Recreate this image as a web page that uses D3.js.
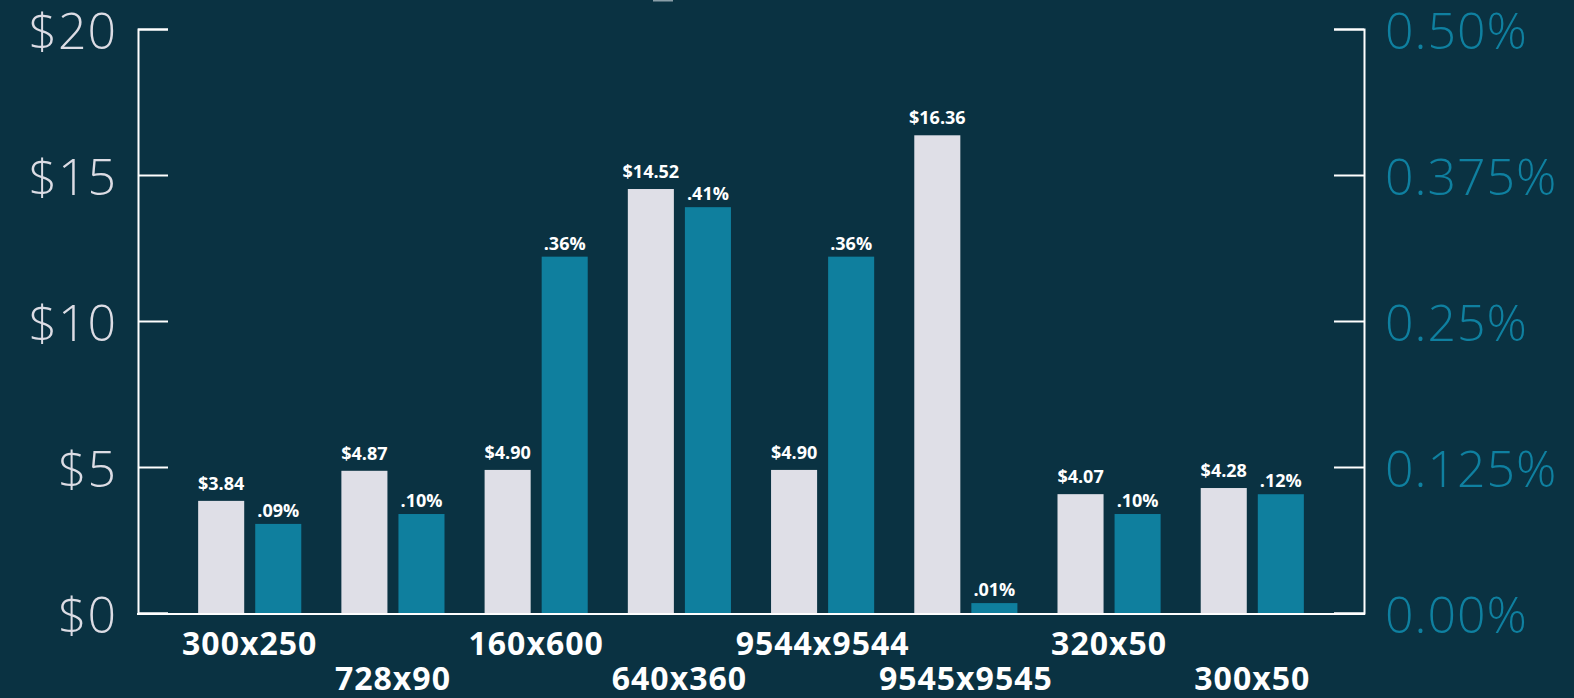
<!DOCTYPE html>
<html>
<head>
<meta charset="utf-8">
<script src="https://cdn.jsdelivr.net/npm/d3@7"></script>
<style>
  html, body { margin: 0; padding: 0; background: #0a3242; }
  svg { display: block; }
</style>
</head>
<body>
<svg id="chart"></svg>
<script>
// ad sizes with average cpm ($) and rate (%)
const sizes = ["300x250", "728x90", "160x600", "640x360", "9544x9544", "9545x9545", "320x50", "300x50"];
const cpm = [3.84, 4.87, 4.90, 14.52, 4.90, 16.36, 4.07, 4.28];
const rate = [0.09, 0.10, 0.36, 0.41, 0.36, 0.01, 0.10, 0.12];

const cpmTicks = [0, 5, 10, 15, 20];
const rateTicks = [0, 0.125, 0.25, 0.375, 0.5];
const rateTickLabels = ["0.00%", "0.125%", "0.25%", "0.375%", "0.50%"];

let layout = {"width": 1574, "height": 698,
              "left": 138, "right": 1364,
              "top": 29, "bottom": 613};

const bg = "#0a3242",
      grey = "#dfdfe7",
      teal = "#0f7f9e";

let svg = d3.select("#chart")
            .attr("width", layout.width)
            .attr("height", layout.height);

svg.append("rect")
   .attr("width", layout.width)
   .attr("height", layout.height)
   .attr("fill", bg);

// bit of the clipped title poking in at the top
svg.append("rect")
   .attr("x", 653).attr("y", -2)
   .attr("width", 20).attr("height", 3.5)
   .attr("fill", "#8a9ea8");

let x0 = d3.scaleBand()
           .domain(sizes)
           .range([layout.left, layout.right])
           .paddingInner(0.28)
           .paddingOuter(0.42);

let x1 = d3.scaleBand()
           .domain(["cpm", "rate"])
           .range([0, x0.bandwidth()])
           .paddingInner(0.193);

let yLeft = d3.scaleLinear()
              .domain([0, 20])
              .range([layout.bottom, layout.top]);

let yRight = d3.scaleLinear()
               .domain([0, 0.5])
               .range([layout.bottom, layout.top]);

// the rate bars were drawn against their own (hidden) maximum
let yRateBar = d3.scaleLinear()
                 .domain([0, 0.59])
                 .range([layout.bottom, layout.top]);

const rows = sizes.map((s, i) => ({size: s, cpm: cpm[i], rate: rate[i], i: i}));

let groups = svg.append("g")
                .selectAll("g")
                .data(rows)
                .join("g")
                .attr("transform", d => `translate(${x0(d.size)},0)`);

groups.append("rect")
      .attr("x", x1("cpm"))
      .attr("y", d => yLeft(d.cpm))
      .attr("width", x1.bandwidth())
      .attr("height", d => yLeft(0) - yLeft(d.cpm))
      .attr("fill", grey);

groups.append("rect")
      .attr("x", x1("rate"))
      .attr("y", d => yRateBar(d.rate))
      .attr("width", x1.bandwidth())
      .attr("height", d => yRateBar(0) - yRateBar(d.rate))
      .attr("fill", teal);

const valueFont = "'Open Sans', 'Liberation Sans', sans-serif";

groups.append("text")
      .attr("x", x1("cpm") + x1.bandwidth() / 2)
      .attr("y", d => yLeft(d.cpm) - 11)
      .attr("text-anchor", "middle")
      .attr("font-family", valueFont)
      .attr("font-weight", 700)
      .attr("font-size", 18)
      .attr("fill", "#ffffff")
      .text(d => "$" + d.cpm.toFixed(2));

groups.append("text")
      .attr("x", x1("rate") + x1.bandwidth() / 2)
      .attr("y", d => yRateBar(d.rate) - 7)
      .attr("text-anchor", "middle")
      .attr("font-family", valueFont)
      .attr("font-weight", 700)
      .attr("font-size", 18)
      .attr("fill", "#ffffff")
      .text(d => d.rate.toFixed(2).replace(/^0/, "") + "%");

// category labels, staggered on two rows
groups.append("text")
      .attr("x", x0.bandwidth() / 2)
      .attr("y", d => d.i % 2 === 0 ? 655 : 690)
      .attr("text-anchor", "middle")
      .attr("font-family", valueFont)
      .attr("font-weight", 700)
      .attr("font-size", 32)
      .attr("letter-spacing", 1)
      .attr("fill", "#ffffff")
      .text(d => d.size);

// axes
const tickFont = "'Open Sans', 'Lato', sans-serif";

let leftAxis = svg.append("g")
                  .attr("transform", `translate(${layout.left},0)`)
                  .call(d3.axisLeft(yLeft)
                          .tickValues(cpmTicks)
                          .tickFormat(d => "$" + d)
                          .tickSize(-30)
                          .tickSizeOuter(-30)
                          .tickPadding(21));

let rightAxis = svg.append("g")
                   .attr("transform", `translate(${layout.right},0)`)
                   .call(d3.axisRight(yRight)
                           .tickValues(rateTicks)
                           .tickFormat((d, i) => rateTickLabels[i])
                           .tickSize(-30)
                           .tickSizeOuter(-30)
                           .tickPadding(21));

[leftAxis, rightAxis].forEach(a => {
  a.select(".domain").attr("stroke", "#ffffff").attr("stroke-width", 2);
  a.selectAll(".tick line").attr("stroke", "#ffffff").attr("stroke-width", 2);
  a.selectAll(".tick text")
   .attr("font-family", tickFont)
   .attr("font-weight", 300)
   .attr("font-size", 50)
   .attr("letter-spacing", 1)
   .attr("dy", null)
   .attr("y", 19);
});
leftAxis.selectAll(".tick text").attr("fill", "#dcdce4");
rightAxis.selectAll(".tick text").attr("fill", "#0f80a0");

// baseline
svg.append("line")
   .attr("x1", layout.left - 1)
   .attr("x2", layout.right + 1)
   .attr("y1", layout.bottom + 1)
   .attr("y2", layout.bottom + 1)
   .attr("stroke", "#ffffff")
   .attr("stroke-width", 2);
</script>
</body>
</html>
